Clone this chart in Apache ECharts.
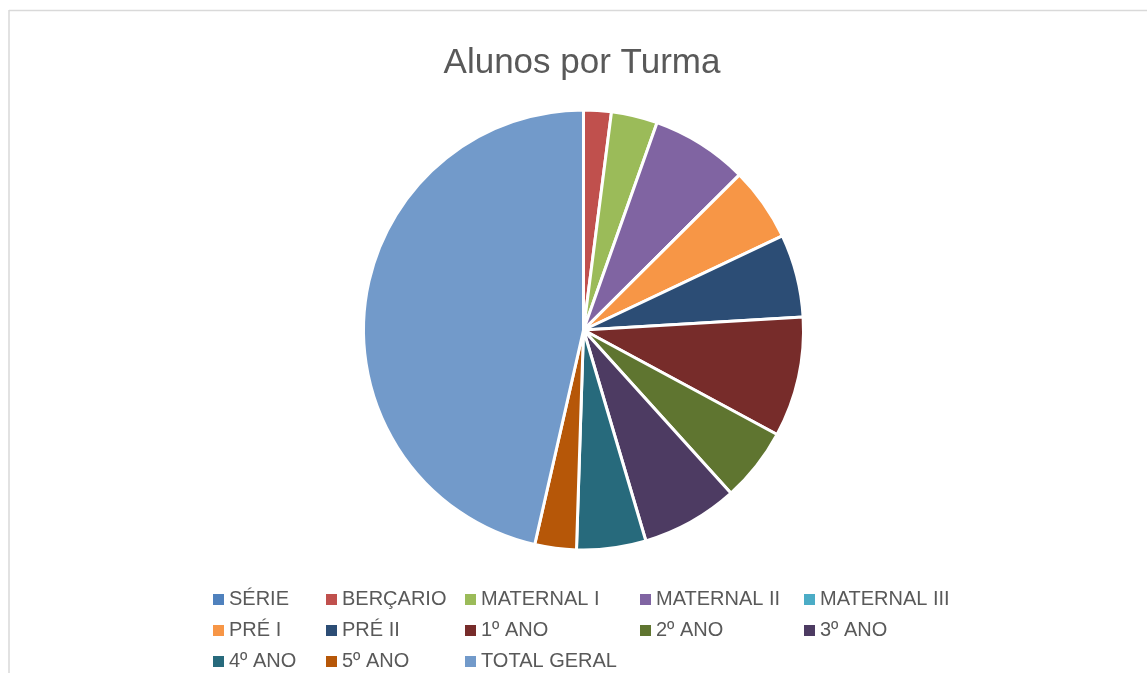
<!DOCTYPE html>
<html>
<head>
<meta charset="utf-8">
<script src="https://cdn.jsdelivr.net/npm/echarts@6/dist/echarts.min.js"></script>
<style>
html,body{margin:0;padding:0;background:#fff;}
#chart{width:1147px;height:673px;}
</style>
</head>
<body>
<div id="chart"></div>
<script>
const title = 'Alunos por Turma';
const categories = ['SÉRIE','BERÇARIO','MATERNAL I','MATERNAL II','MATERNAL III','PRÉ I','PRÉ II','1º ANO','2º ANO','3º ANO','4º ANO','5º ANO','TOTAL GERAL'];
const values = [0, 6, 10, 21, 0, 16, 18, 26, 16, 21, 15, 9, 137];
const colors = ['#4F81BD','#C0504D','#9BBB59','#8064A2','#4BACC6','#F79646','#2C4D75','#772C2A','#5F7530','#4D3B62','#276A7C','#B65708','#729ACA'];

const chart = echarts.init(document.getElementById('chart'), null, {renderer:'canvas'});
const textColor = '#595959';
const fontFamily = '"Liberation Sans", Arial, sans-serif';

const colLefts = [208, 321, 460, 635, 799];
const legends = colLefts.map((left, c) => {
  const data = [];
  for (let i = c; i < categories.length; i += 5) data.push(categories[i]);
  return {
    orient: 'vertical',
    left: left,
    top: 579,
    height: 200,
    itemGap: 0,
    itemWidth: 11,
    itemHeight: 11,
    icon: 'rect',
    selectedMode: false,
    itemStyle: {borderWidth: 0},
    data: data,
    textStyle: {color: textColor, fontSize: 20, fontFamily: fontFamily, lineHeight: 31, padding: [0,0,0,0]}
  };
});

chart.setOption({
  animation: false,
  color: colors,
  title: {
    text: title,
    left: 577,
    textAlign: 'center',
    top: 41,
    textStyle: {color: textColor, fontSize: 35, fontWeight: 'normal', fontFamily: fontFamily}
  },
  legend: legends,
  graphic: [
    {type:'line', shape:{x1:9, y1:10.5, x2:1147, y2:10.5}, style:{stroke:'#d9d9d9', lineWidth:1.5}},
    {type:'line', shape:{x1:9, y1:10, x2:9, y2:673}, style:{stroke:'#d9d9d9', lineWidth:1.5}}
  ],
  series: [{
    type: 'pie',
    center: [583.5, 330],
    radius: [0, 220],
    startAngle: 90,
    clockwise: true,
    label: {show: false},
    labelLine: {show: false},
    emphasis: {disabled: true},
    itemStyle: {borderColor: '#ffffff', borderWidth: 3},
    data: categories.map((name, i) => ({name: name, value: values[i]}))
  }]
});
</script>
</body>
</html>
